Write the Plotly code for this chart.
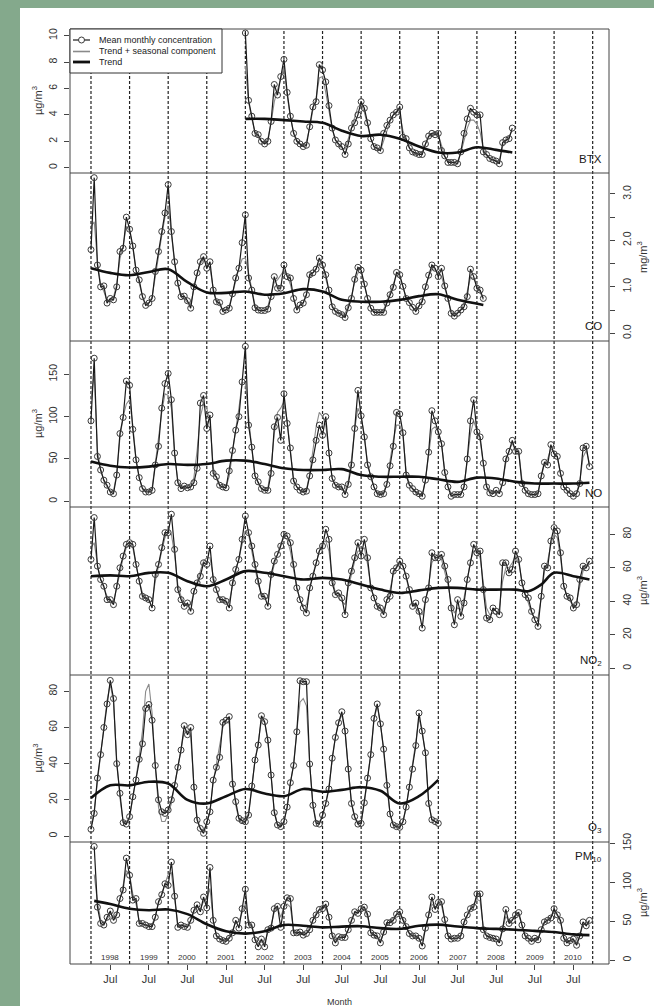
import plotly.graph_objects as go

# ---------------------------------------------------------------- page geometry
W, H = 654, 1006
ML, MR, MT, MB = 70, 45, 29, 42
PW, PH = W - ML - MR, H - MT - MB

GREEN = "#84a98c"
INK = "#1a1a1a"
AXIS = "#444444"
FIT_GREY = "#8a8a8a"
FONT = "Liberation Sans, Arial, sans-serif"


def yp(pix):
    """pixel row -> paper y"""
    return (H - MB - pix) / PH


def xp(pix):
    """pixel column -> paper x"""
    return (pix - ML) / PW


# ---------------------------------------------------------------- monthly data
# observed monthly means, trend + seasonal component, and trend knots
# (trend knots are given in months counted from January 1998)

BTX_START = (2002, 1)
BTX_OBS = [
    10.2, 5.1, 3.9, 2.6, 2.5, 2.0, 1.8, 2.0, 3.5, 6.3, 5.5, 6.9,
    8.2, 5.7, 3.9, 2.6, 2.0, 1.8, 1.6, 1.7, 3.1, 4.6, 5.0, 7.8,
    7.4, 6.5, 4.7, 3.0, 2.1, 1.8, 1.6, 1.0, 1.8, 3.0, 3.4, 4.0,
    5.0, 4.5, 3.4, 2.2, 1.6, 1.5, 1.3, 2.6, 3.2, 3.6, 4.0, 4.2,
    4.6, 2.3, 2.2, 1.5, 1.2, 1.1, 1.0, 1.0, 1.8, 2.4, 2.6, 2.5,
    2.6, 1.3, 0.9, 0.4, 0.4, 0.4, 0.3, 1.2, 2.6, 3.7, 4.5, 4.2,
    4.0, 4.0, 1.2, 1.0, 0.7, 0.6, 0.5, 0.3, 1.9, 2.1, 2.2, 3.0,
]
BTX_FIT = [
    7.7, 5.0, 3.7, 2.7, 2.3, 2.0, 1.9, 2.2, 3.4, 5.0, 5.9, 6.8,
    7.6, 5.5, 3.8, 2.7, 2.1, 1.8, 1.7, 2.0, 3.0, 4.4, 5.3, 6.8,
    6.9, 5.7, 4.2, 2.9, 2.1, 1.7, 1.5, 1.4, 2.2, 3.0, 3.8, 4.6,
    4.8, 4.2, 3.2, 2.2, 1.6, 1.4, 1.3, 2.0, 2.8, 3.5, 4.0, 4.3,
    4.1, 2.8, 2.1, 1.5, 1.1, 1.0, 1.0, 1.2, 1.8, 2.3, 2.6, 2.6,
    2.5, 1.6, 0.9, 0.5, 0.4, 0.4, 0.5, 1.1, 2.0, 3.0, 3.6, 3.6,
    3.3, 2.7, 1.4, 0.9, 0.7, 0.6, 0.5, 0.6, 1.6, 2.0, 2.4, 2.8,
]
BTX_TREND_M = [48, 54, 60, 66, 72, 78, 84, 90, 96, 102, 108, 114, 120, 126, 131]
BTX_TREND = [3.7, 3.7, 3.6, 3.5, 3.4, 2.8, 2.4, 2.5, 2.2, 1.6, 1.15, 1.15, 1.55, 1.35, 1.15]

CO_START = (1998, 1)
CO_OBS = [
    1.80, 3.35, 1.47, 1.00, 1.02, 0.65, 0.75, 0.72, 1.00, 1.76, 1.83, 2.50,
    2.24, 1.88, 1.36, 1.15, 0.79, 0.60, 0.65, 0.75, 1.33, 1.76, 2.19, 2.59,
    3.20, 2.19, 1.54, 1.08, 0.79, 0.80, 0.70, 0.54, 1.00, 1.30, 1.54, 1.65,
    1.40, 1.54, 0.93, 0.68, 0.66, 0.47, 0.50, 0.54, 0.85, 1.19, 1.40, 1.95,
    2.55, 1.19, 0.93, 0.55, 0.50, 0.49, 0.49, 0.52, 0.79, 1.22, 0.97, 0.97,
    1.47, 1.22, 1.19, 0.75, 0.50, 0.61, 0.65, 0.83, 1.26, 1.30, 1.38, 1.62,
    1.47, 1.26, 0.93, 0.57, 0.47, 0.43, 0.40, 0.34, 0.55, 0.75, 1.16, 1.42,
    1.36, 1.06, 0.75, 0.54, 0.45, 0.45, 0.45, 0.45, 0.65, 0.83, 0.99, 1.31,
    1.26, 1.01, 0.75, 0.66, 0.56, 0.47, 0.59, 0.68, 1.00, 1.25, 1.47, 1.40,
    1.22, 1.40, 1.02, 0.75, 0.43, 0.37, 0.43, 0.50, 0.57, 0.79, 1.38, 1.22,
    0.97, 0.93, 0.75,
]
CO_FIT = [
    2.30, 2.40, 1.55, 1.05, 0.90, 0.70, 0.72, 0.78, 1.05, 1.60, 1.90, 2.30,
    2.20, 1.85, 1.35, 1.10, 0.80, 0.62, 0.66, 0.78, 1.25, 1.72, 2.10, 2.50,
    2.75, 2.15, 1.50, 1.05, 0.80, 0.75, 0.66, 0.62, 0.95, 1.30, 1.50, 1.60,
    1.50, 1.40, 0.98, 0.70, 0.62, 0.50, 0.50, 0.58, 0.85, 1.15, 1.40, 1.60,
    1.62, 1.30, 0.92, 0.60, 0.50, 0.48, 0.50, 0.58, 0.85, 1.10, 1.15, 1.25,
    1.35, 1.25, 1.05, 0.75, 0.55, 0.60, 0.66, 0.85, 1.20, 1.30, 1.40, 1.50,
    1.45, 1.20, 0.90, 0.60, 0.48, 0.44, 0.42, 0.42, 0.60, 0.80, 1.10, 1.30,
    1.32, 1.05, 0.75, 0.55, 0.46, 0.45, 0.46, 0.50, 0.68, 0.88, 1.05, 1.25,
    1.22, 1.00, 0.78, 0.65, 0.55, 0.50, 0.58, 0.72, 1.00, 1.22, 1.38, 1.38,
    1.28, 1.22, 0.98, 0.70, 0.48, 0.42, 0.45, 0.52, 0.65, 0.90, 1.20, 1.18,
    1.05, 0.88, 0.72,
]
CO_TREND_M = [0, 6, 12, 18, 24, 30, 36, 42, 48, 54, 60, 66, 72, 78, 84, 90, 96, 102, 108, 114, 122]
CO_TREND = [1.40, 1.30, 1.25, 1.32, 1.38, 1.10, 0.88, 0.87, 0.90, 0.83, 0.86, 0.95, 0.90, 0.72,
            0.68, 0.68, 0.72, 0.80, 0.84, 0.72, 0.61]

NO_START = (1998, 1)
NO_OBS = [
    95, 169, 53, 37, 25, 19, 11, 9, 31, 80, 99, 142,
    137, 85, 49, 28, 15, 11, 11, 13, 43, 65, 110, 139,
    151, 120, 57, 22, 15, 18, 16, 17, 22, 39, 116, 125,
    86, 102, 33, 29, 19, 17, 16, 36, 60, 84, 100, 141,
    183, 90, 64, 30, 23, 15, 13, 13, 33, 88, 99, 72,
    127, 92, 63, 24, 17, 13, 11, 12, 30, 49, 72, 90,
    78, 100, 57, 27, 19, 17, 17, 8, 20, 43, 86, 131,
    101, 76, 43, 29, 17, 9, 8, 9, 20, 42, 65, 105,
    103, 81, 31, 19, 15, 11, 9, 6, 25, 58, 107, 95,
    82, 68, 34, 17, 6, 8, 8, 8, 17, 50, 95, 120,
    82, 76, 45, 17, 10, 9, 13, 9, 22, 50, 59, 72,
    59, 59, 21, 13, 9, 8, 8, 9, 30, 46, 43, 67,
    56, 53, 33, 17, 13, 9, 6, 9, 21, 63, 65, 41,
]
NO_FIT = [
    120, 150, 60, 38, 24, 17, 12, 12, 32, 75, 100, 115,
    120, 90, 50, 27, 16, 12, 12, 16, 45, 75, 105, 127,
    125, 110, 55, 25, 16, 16, 16, 18, 28, 60, 100, 115,
    110, 95, 40, 27, 19, 16, 17, 30, 60, 85, 110, 140,
    140, 100, 62, 30, 21, 15, 13, 16, 40, 80, 105, 110,
    118, 95, 60, 26, 17, 13, 12, 14, 32, 58, 88, 105,
    100, 90, 55, 27, 19, 16, 14, 12, 24, 50, 85, 110,
    100, 78, 45, 28, 17, 11, 9, 10, 22, 48, 72, 90,
    90, 78, 35, 20, 14, 10, 8, 8, 25, 55, 85, 88,
    82, 68, 36, 18, 9, 8, 8, 9, 18, 48, 80, 95,
    84, 72, 44, 19, 11, 9, 11, 10, 22, 46, 60, 68,
    62, 58, 26, 14, 9, 8, 8, 10, 28, 45, 50, 62,
    58, 52, 32, 17, 12, 9, 7, 10, 24, 52, 60, 45,
]
NO_TREND_M = [0, 6, 12, 18, 24, 30, 36, 42, 48, 54, 60, 66, 72, 78, 84, 90, 96, 102,
              108, 114, 120, 126, 132, 138, 144, 150, 155]
NO_TREND = [47, 42, 40, 41, 44, 43, 44, 48, 48, 44, 39, 37, 37, 38, 31, 29, 29, 29,
            26, 23, 28, 27, 23, 21, 21, 21, 22]

NO2_START = (1998, 1)
NO2_OBS = [
    65, 90, 61, 53, 49, 41, 41, 38, 49, 60, 67, 74,
    75, 74, 62, 52, 43, 42, 41, 36, 56, 62, 72, 81,
    81, 92, 71, 47, 41, 37, 39, 34, 46, 51, 55, 63,
    62, 73, 53, 47, 41, 41, 40, 36, 51, 59, 65, 77,
    91, 81, 73, 62, 52, 43, 43, 37, 56, 64, 68, 73,
    80, 79, 75, 62, 48, 41, 36, 33, 48, 55, 63, 70,
    73, 83, 77, 51, 44, 45, 42, 32, 51, 58, 66, 75,
    67, 77, 66, 48, 42, 37, 36, 32, 41, 43, 58, 60,
    64, 61, 55, 47, 37, 39, 34, 24, 41, 48, 69, 66,
    66, 68, 61, 53, 36, 26, 41, 31, 39, 53, 63, 74,
    69, 70, 47, 30, 29, 36, 34, 32, 63, 63, 57, 59,
    70, 65, 51, 44, 42, 34, 29, 25, 43, 61, 60, 76,
    84, 82, 69, 49, 43, 42, 36, 38, 53, 61, 60, 64,
]
NO2_FIT = [
    72, 75, 62, 53, 48, 43, 40, 40, 48, 58, 66, 72,
    74, 72, 62, 52, 45, 41, 40, 40, 52, 62, 70, 78,
    82, 80, 68, 50, 43, 38, 38, 38, 45, 52, 58, 64,
    66, 66, 55, 47, 42, 40, 39, 40, 50, 58, 66, 75,
    82, 80, 70, 60, 50, 45, 42, 42, 54, 62, 68, 74,
    78, 77, 70, 60, 48, 41, 37, 38, 48, 56, 63, 70,
    75, 76, 70, 54, 45, 42, 40, 38, 48, 56, 64, 70,
    70, 72, 62, 49, 42, 38, 35, 34, 41, 47, 56, 61,
    63, 61, 54, 45, 38, 36, 33, 32, 40, 50, 63, 66,
    66, 65, 58, 50, 39, 33, 36, 35, 42, 54, 64, 70,
    69, 66, 50, 36, 32, 33, 32, 36, 52, 60, 60, 63,
    67, 63, 52, 44, 39, 33, 30, 30, 42, 58, 64, 74,
    80, 78, 66, 50, 43, 40, 37, 40, 50, 58, 60, 64,
]
NO2_TREND_M = [0, 6, 12, 18, 24, 30, 36, 42, 48, 54, 60, 66, 72, 78, 84, 90, 96, 102,
               108, 114, 120, 126, 132, 136, 140, 144, 150, 155]
NO2_TREND = [55, 55.5, 55, 57, 57, 52, 49, 53, 58, 57, 55, 53, 54, 53, 50, 47, 45, 46.5,
             48, 48, 47, 47, 47, 46, 50, 57, 55, 53]

O3_START = (1998, 1)
O3_OBS = [
    3.7, 12.5, 32, 45, 60, 73, 86, 76, 40, 23.6, 7.4, 6.6,
    10.7, 21.7, 31, 42.4, 51, 70.5, 72.7, 64, 39, 20, 13.4, 12.5,
    14.4, 20, 28, 38, 47.5, 61, 56, 60, 27, 8.8, 4.2, 1.5,
    7.9, 13.4, 30.9, 38, 43.5, 62.8, 64, 66, 28.7, 19, 9.8, 8.5,
    7.9, 11.6, 27.6, 42, 50.3, 66.5, 63.2, 53, 33.7, 12.9, 6.1, 5.2,
    8, 16, 29.5, 39, 57.6, 85.8, 85.3, 85.3, 39.8, 17, 7, 6.6,
    11.6, 18, 26, 43, 54.5, 62.6, 68.7, 58, 37, 18, 10.7, 6.6,
    7, 18.4, 32, 45, 65, 73, 62, 48, 28, 12.2, 6.1, 5.2,
    4.8, 7.9, 16, 27, 37, 50, 68, 58, 46, 18, 9, 8,
    7,
]
O3_FIT = [
    5, 14, 30, 45, 60, 75, 84, 74, 42, 21, 8, 7,
    10, 20, 32, 44, 58, 80, 84, 68, 38, 16, 8, 8,
    12, 18, 28, 38, 48, 58, 58, 55, 28, 10, 4, 3,
    7, 14, 30, 40, 48, 60, 64, 62, 32, 17, 9, 7,
    8, 13, 27, 42, 52, 64, 63, 52, 33, 14, 6, 5,
    8, 16, 29, 40, 58, 74, 76, 72, 40, 18, 8, 7,
    11, 18, 28, 42, 55, 63, 67, 58, 36, 18, 10, 7,
    8, 18, 32, 46, 64, 72, 62, 47, 27, 12, 6, 5,
    5, 8, 16, 28, 38, 52, 65, 58, 45, 19, 9, 8,
    7,
]
O3_TREND_M = [0, 6, 12, 18, 24, 30, 36, 42, 48, 54, 60, 66, 72, 78, 84, 90, 96, 102, 108]
O3_TREND = [21, 28, 28, 30, 29, 20, 18, 22, 26, 23.5, 22, 26, 24.5, 25.5, 27, 25, 18, 22, 31]

PM10_START = (1998, 2)
PM10_OBS = [
    146, 68, 47, 45, 55, 63, 51, 58, 79, 90, 131,
    109, 77, 79, 47, 47, 45, 43, 43, 55, 75, 84, 98,
    96, 126, 82, 42, 45, 43, 42, 51, 64, 71, 62, 81,
    67, 119, 51, 31, 27, 25, 24, 28, 35, 51, 41, 66,
    91, 45, 45, 26, 17, 27, 17, 39, 41, 66, 69, 42,
    69, 80, 79, 35, 35, 36, 32, 34, 39, 51, 58, 65,
    66, 72, 55, 31, 22, 30, 29, 29, 39, 51, 62, 60,
    66, 68, 59, 35, 32, 31, 22, 36, 48, 48, 51, 59,
    62, 51, 43, 34, 31, 31, 28, 18, 41, 58, 81, 65,
    74, 75, 52, 31, 27, 28, 28, 31, 49, 58, 66, 68,
    85, 85, 39, 31, 29, 28, 27, 22, 40, 65, 47, 51,
    58, 61, 45, 31, 28, 24, 28, 26, 39, 49, 51, 54,
    66, 58, 51, 28, 22, 25, 27, 19, 31, 49, 44, 51,
]
PM10_FIT = [
    110, 75, 52, 46, 52, 60, 55, 60, 78, 95, 115,
    110, 85, 72, 50, 46, 45, 44, 46, 56, 73, 86, 100,
    110, 112, 75, 46, 44, 43, 43, 50, 62, 68, 66, 75,
    78, 92, 52, 32, 28, 26, 26, 30, 38, 48, 50, 62,
    72, 52, 42, 28, 22, 25, 22, 36, 45, 62, 68, 55,
    68, 72, 68, 38, 34, 34, 33, 35, 42, 52, 60, 65,
    66, 68, 55, 33, 26, 29, 29, 31, 40, 52, 60, 62,
    64, 65, 56, 36, 31, 29, 25, 34, 46, 50, 54, 58,
    60, 54, 44, 34, 30, 29, 27, 25, 41, 56, 72, 68,
    72, 70, 52, 33, 28, 28, 28, 32, 47, 58, 66, 72,
    78, 76, 42, 31, 28, 27, 26, 26, 40, 56, 50, 52,
    57, 58, 45, 31, 27, 25, 27, 28, 38, 48, 52, 56,
    62, 57, 49, 30, 24, 24, 25, 22, 32, 46, 45, 49,
]
PM10_TREND_M = [1, 6, 12, 18, 24, 30, 36, 42, 48, 54, 60, 66, 72, 78, 84, 90, 96, 102,
                108, 114, 120, 126, 132, 138, 144, 150, 155]
PM10_TREND = [76, 72, 66, 64, 65, 59, 46, 37, 34, 37, 45, 44, 42, 43, 43.5, 41, 40, 44,
              45.5, 43, 41, 40, 39, 37.5, 36, 33, 32]

YEARS = list(range(1998, 2011))          # year labels in the bottom panel
YEAR_LINES = list(range(1998, 2012))     # dashed year separators
JUL_TICKS = [y + 0.5 for y in YEARS]

# ---------------------------------------------------------------- panels
PANELS = [
    dict(name="BTX", obs=BTX_OBS, fit=BTX_FIT, tm=BTX_TREND_M, tr=BTX_TREND, start=BTX_START,
         top=29, bot=173, side="left", rng=[-0.4, 10.5],
         tv=[0, 2, 4, 6, 8, 10], tt=["0", "2", "4", "6", "8", "10"], minor=None,
         unit="µg/m<sup>3</sup>", label="BTX", ly=159),
    dict(name="CO", obs=CO_OBS, fit=CO_FIT, tm=CO_TREND_M, tr=CO_TREND, start=CO_START,
         top=173, bot=341, side="right", rng=[-0.166, 3.45],
         tv=[0, 1, 2, 3], tt=["0.0", "1.0", "2.0", "3.0"], minor=0.5,
         unit="mg/m<sup>3</sup>", label="CO", ly=326),
    dict(name="NO", obs=NO_OBS, fit=NO_FIT, tm=NO_TREND_M, tr=NO_TREND, start=NO_START,
         top=341, bot=507, side="left", rng=[-6.7, 189.3],
         tv=[0, 50, 100, 150], tt=["0", "50", "100", "150"], minor=None,
         unit="µg/m<sup>3</sup>", label="NO", ly=493),
    dict(name="NO2", obs=NO2_OBS, fit=NO2_FIT, tm=NO2_TREND_M, tr=NO2_TREND, start=NO2_START,
         top=507, bot=675, side="right", rng=[-4.0, 96.3],
         tv=[0, 20, 40, 60, 80], tt=["0", "20", "40", "60", "80"], minor=None,
         unit="µg/m<sup>3</sup>", label="NO<sub>2</sub>", ly=661),
    dict(name="O3", obs=O3_OBS, fit=O3_FIT, tm=O3_TREND_M, tr=O3_TREND, start=O3_START,
         top=675, bot=842, side="left", rng=[-3.3, 89.0],
         tv=[0, 20, 40, 60, 80], tt=["0", "20", "40", "60", "80"], minor=None,
         unit="µg/m<sup>3</sup>", label="O<sub>3</sub>", ly=828),
    dict(name="PM10", obs=PM10_OBS, fit=PM10_FIT, tm=PM10_TREND_M, tr=PM10_TREND, start=PM10_START,
         top=842, bot=964, side="right", rng=[-5.1, 151.7],
         tv=[0, 50, 100, 150], tt=["0", "50", "100", "150"], minor=None,
         unit="µg/m<sup>3</sup>", label="PM<sub>10</sub>", ly=857),
]


def month_axis(start, n):
    y, m = start
    base = y + (m - 1) / 12.0
    return [base + i / 12.0 for i in range(n)]


fig = go.Figure()
layout_axes = {}
annotations = []
tick_font = dict(family=FONT, size=10.5, color="#333333")

for i, p in enumerate(PANELS, start=1):
    yref = "y" if i == 1 else f"y{i}"
    ykey = "yaxis" if i == 1 else f"yaxis{i}"
    xs = month_axis(p["start"], len(p["obs"]))
    xf = month_axis(p["start"], len(p["fit"]))
    xt = [1998 + k / 12.0 for k in p["tm"]]

    fig.add_trace(go.Scatter(x=xf, y=p["fit"], yaxis=yref, mode="lines",
                             line=dict(color=FIT_GREY, width=1.1), showlegend=False,
                             hoverinfo="skip"))
    fig.add_trace(go.Scatter(x=xs, y=p["obs"], yaxis=yref, mode="lines+markers",
                             line=dict(color=INK, width=1.2),
                             marker=dict(symbol="circle-open", size=6, color="#3a3a3a",
                                         line=dict(width=1)),
                             showlegend=False, name=p["name"]))
    fig.add_trace(go.Scatter(x=xt, y=p["tr"], yaxis=yref, mode="lines",
                             line=dict(color="#111111", width=2.6, shape="spline", smoothing=1.0),
                             showlegend=False, hoverinfo="skip"))

    axis = dict(
        domain=[yp(p["bot"]), yp(p["top"])], anchor="x", side=p["side"],
        range=p["rng"], tickmode="array", tickvals=p["tv"], ticktext=p["tt"],
        ticks="outside", ticklen=5, tickwidth=1, tickcolor=AXIS, tickangle=-90,
        ticklabelstandoff=3, tickfont=tick_font,
        showgrid=False, zeroline=False, showline=False, fixedrange=True,
    )
    if p["minor"]:
        axis["minor"] = dict(dtick=p["minor"], tick0=0, ticks="outside", ticklen=5,
                             tickwidth=1, tickcolor=AXIS, showgrid=False)
    layout_axes[ykey] = axis

    mid = (p["top"] + p["bot"]) / 2.0
    ux = 37 if p["side"] == "left" else 642
    annotations.append(dict(x=xp(ux), y=yp(mid), xref="paper", yref="paper",
                            text=p["unit"], textangle=-90, showarrow=False,
                            xanchor="center", yanchor="middle",
                            font=dict(family=FONT, size=11, color="#333333")))
    annotations.append(dict(x=xp(604), y=yp(p["ly"]), xref="paper", yref="paper",
                            text=p["label"], xanchor="right", yanchor="middle",
                            showarrow=False, font=dict(family=FONT, size=11.5, color=INK)))

# year labels along the bottom panel
for yr in YEARS:
    annotations.append(dict(x=yr + 0.5, y=yp(957), xref="x", yref="paper", text=str(yr),
                            xanchor="center", yanchor="middle", showarrow=False,
                            font=dict(family=FONT, size=8, color="#333333")))

annotations.append(dict(x=xp(339.5), y=yp(1002), xref="paper", yref="paper", text="Month",
                        xanchor="center", yanchor="middle", showarrow=False,
                        font=dict(family=FONT, size=9, color="#333333")))

# ---------------------------------------------------------------- shapes
shapes = [
    dict(type="rect", xref="paper", yref="paper", x0=xp(20), x1=xp(W + 5),
         y0=yp(H + 5), y1=yp(8), fillcolor="white", line=dict(width=0), layer="below"),
]
for yr in YEAR_LINES:
    shapes.append(dict(type="line", xref="x", yref="paper", x0=yr, x1=yr, y0=0, y1=1,
                       line=dict(color="#222222", width=1.2, dash="3px,2px"), layer="below"))
shapes.append(dict(type="rect", xref="paper", yref="paper", x0=0, x1=1, y0=0, y1=1,
                   line=dict(color=AXIS, width=1), layer="above"))
for p in PANELS[1:]:
    shapes.append(dict(type="line", xref="paper", yref="paper", x0=0, x1=1,
                       y0=yp(p["top"]), y1=yp(p["top"]),
                       line=dict(color=AXIS, width=1), layer="above"))

# legend box in the top panel
LEG_L, LEG_R, LEG_T, LEG_B = 70, 222, 29, 73
shapes.append(dict(type="rect", xref="paper", yref="paper", x0=xp(LEG_L), x1=xp(LEG_R),
                   y0=yp(LEG_B), y1=yp(LEG_T), fillcolor="white",
                   line=dict(color="#333333", width=1), layer="above"))
legend_rows = [
    ("Mean monthly concentration", INK, 1.2, 40),
    ("Trend + seasonal component", FIT_GREY, 1.6, 51.5),
    ("Trend", "#111111", 2.8, 62),
]
for text, col, wid, ry in legend_rows:
    shapes.append(dict(type="line", xref="paper", yref="paper", x0=xp(73), x1=xp(90),
                       y0=yp(ry), y1=yp(ry), line=dict(color=col, width=wid), layer="above"))
    annotations.append(dict(x=xp(97), y=yp(ry), xref="paper", yref="paper", text=text,
                            xanchor="left", yanchor="middle", showarrow=False,
                            font=dict(family=FONT, size=9, color=INK)))
shapes.append(dict(type="circle", xref="paper", yref="paper",
                   x0=xp(81.5 - 3), x1=xp(81.5 + 3), y0=yp(40 + 3), y1=yp(40 - 3),
                   fillcolor="white", line=dict(color="#3a3a3a", width=1), layer="above"))

fig.update_layout(
    width=W, height=H,
    margin=dict(l=ML, r=MR, t=MT, b=MB),
    paper_bgcolor=GREEN, plot_bgcolor="white",
    showlegend=False,
    xaxis=dict(domain=[0, 1], anchor="y6", range=[1997.456, 2011.423],
               tickmode="array", tickvals=JUL_TICKS, ticktext=["Jul"] * len(JUL_TICKS),
               ticks="outside", ticklen=5, tickcolor=AXIS,
               tickfont=dict(family=FONT, size=11, color="#333333"),
               showgrid=False, zeroline=False, showline=False, fixedrange=True),
    shapes=shapes,
    annotations=annotations,
    **layout_axes,
)

fig.write_html("out.html")
